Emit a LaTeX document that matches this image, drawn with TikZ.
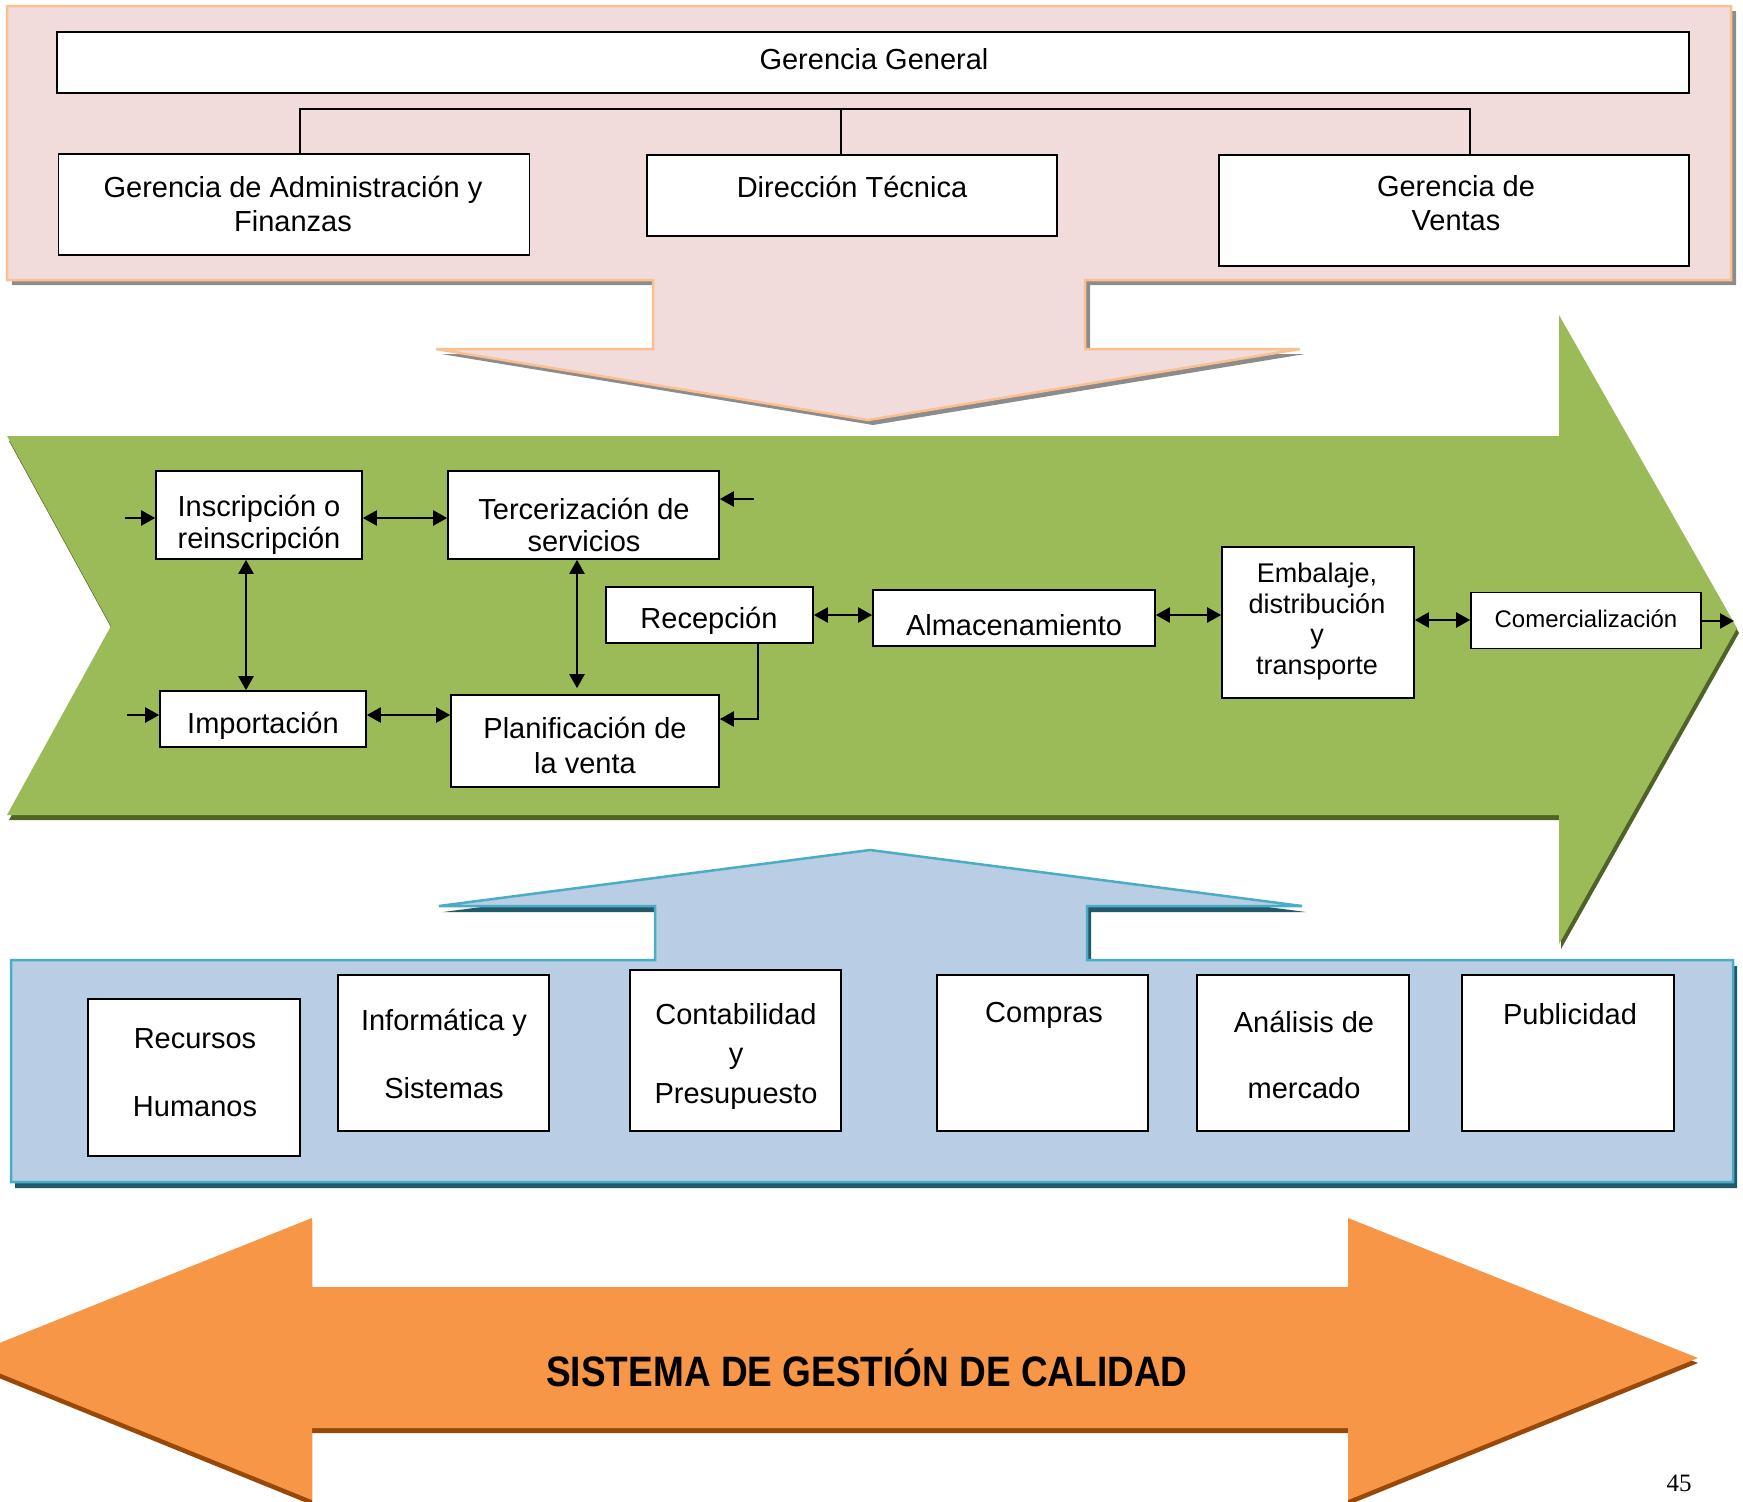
\documentclass[tikz,border=0pt]{standalone}
\usepackage{fontspec}
\setmainfont{Liberation Sans}
\newfontfamily\pageserif{Liberation Serif}
\usetikzlibrary{arrows.meta}
\definecolor{pinkfill}{HTML}{F2DCDB}
\definecolor{peach}{HTML}{FAC090}
\definecolor{pinkshadow}{HTML}{8C8C8C}
\definecolor{greenfill}{HTML}{9BBB59}
\definecolor{greenshadow}{HTML}{4F6228}
\definecolor{bluefill}{HTML}{B9CDE5}
\definecolor{blueline}{HTML}{4BACC6}
\definecolor{blueshadow}{HTML}{215968}
\definecolor{orangefill}{HTML}{F79646}
\definecolor{orangeshadow}{HTML}{984807}
\newcommand\pinkpoly[1]{\path[#1] (7,6) -- (1731,6) -- (1731,280) -- (1085,280) -- (1085,349) -- (1300,349) -- (868,420) -- (436,349) -- (653,349) -- (653,280) -- (7,280) -- cycle;}
\newcommand\greenpoly[1]{\path[#1] (7,436) -- (1559,436) -- (1559,315) -- (1737,628) -- (1559,944) -- (1559,815) -- (7,815) -- (111,626) -- cycle;}
\newcommand\bluepoly[1]{\path[#1] (11,960) -- (655,960) -- (655,906) -- (439,906) -- (870,850) -- (1302,906) -- (1087,906) -- (1087,960) -- (1733,960) -- (1733,1182) -- (11,1182) -- cycle;}
\newcommand\orangepoly[1]{\path[#1] (-38,1358) -- (312,1218) -- (312,1287) -- (1348,1287) -- (1348,1218) -- (1698,1358) -- (1348,1500) -- (1348,1428) -- (312,1428) -- (312,1500) -- cycle;}
\begin{document}
\begin{tikzpicture}[x=1pt,y=-1pt,
  box/.style={draw=black, fill=white, line width=1.6pt, inner sep=0pt},
  txt/.style={inner sep=0pt, align=center, font=\fontsize{29}{34}\selectfont},
  arr/.style={-{Triangle[length=14pt,width=15pt]}, line width=2.2pt},
  dbl/.style={{Triangle[length=14pt,width=15pt]}-{Triangle[length=14pt,width=15pt]}, line width=2.2pt},
  conn/.style={draw=black, line width=1.5pt}
]
\useasboundingbox (0,0) rectangle (1743,1502);
\clip (0,0) rectangle (1743,1502);

% ---------- background shapes ----------
\pinkpoly{fill=pinkshadow, shift={(5,5)}}
\pinkpoly{fill=pinkfill, draw=peach, line width=2.5pt}
\greenpoly{fill=greenshadow, shift={(2,5)}}
\greenpoly{fill=greenfill}
\bluepoly{fill=blueshadow, shift={(4,6)}}
\bluepoly{fill=bluefill, draw=blueline, line width=2.5pt}
\orangepoly{fill=orangeshadow, shift={(0,5)}}
\orangepoly{fill=orangefill}

% ---------- top: organisation ----------
\node[box, minimum width=1632pt, minimum height=61pt] (gg) at (873,62.5) {};
\node[txt] (ggT) at (874,59) {Gerencia General};
\node[box, minimum width=471pt, minimum height=101pt] (adm) at (294,204.5) {};
\node[txt] (admT) at (293,203.5) {Gerencia de Administración y\\Finanzas};
\node[box, minimum width=410pt, minimum height=81pt] (dir) at (852,195.5) {};
\node[txt] (dirT) at (852,186.5) {Dirección Técnica};
\node[box, minimum width=470pt, minimum height=111pt] (ven) at (1454,210.5) {};
\node[txt] (venT) at (1456,203) {Gerencia de\\Ventas};

\coordinate (busL) at (300,109);
\coordinate (busM) at (841,109);
\coordinate (busR) at (1470,109);
\draw[conn] (adm.north -| busL) -- (busL) -- (busR) -- (ven.north -| busR);
\draw[conn] (busM) -- (dir.north -| busM);

% ---------- middle: process ----------
\node[box, minimum width=206pt, minimum height=88pt] (ins) at (259,515) {};
\node[txt, font=\fontsize{29}{32}\selectfont] (insT) at (259,525) {Inscripción o\\reinscripción};
\node[box, minimum width=271pt, minimum height=88pt] (ter) at (583.5,515) {};
\node[txt, font=\fontsize{29}{32}\selectfont] (terT) at (584,524.5) {Tercerización de\\servicios};
\node[box, minimum width=207pt, minimum height=56pt] (rec) at (709.5,615) {};
\node[txt] (recT) at (709,621) {Recepción};
\node[box, minimum width=282pt, minimum height=56pt] (alm) at (1014,618) {};
\node[txt] (almT) at (1014,625.5) {Almacenamiento};
\node[box, minimum width=192pt, minimum height=151pt] (emb) at (1318,622.5) {};
\node[txt, font=\fontsize{27}{30.5}\selectfont] (embT) at (1317,621.5) {Embalaje,\\distribución\\y\\transporte};
\node[box, minimum width=230pt, minimum height=56pt] (com) at (1586,620.5) {};
\node[txt, font=\fontsize{24}{28}\selectfont] (comT) at (1586,619) {Comercialización};
\node[box, minimum width=206pt, minimum height=56pt] (imp) at (263,719) {};
\node[txt] (impT) at (263,726) {Importación};
\node[box, minimum width=268pt, minimum height=92pt] (pla) at (585,741) {};
\node[txt, font=\fontsize{29}{35}\selectfont] (plaT) at (585,745) {Planificación de\\la venta};

\coordinate (in1) at (125,518);
\coordinate (in2) at (127,715);
\coordinate (in3) at (754,499);
\coordinate (y1) at (0,518);
\coordinate (y2) at (0,715);
\coordinate (y2b) at (0,719);
\coordinate (y3) at (0,615);
\coordinate (y4) at (0,620);
\coordinate (x1) at (246,0);
\coordinate (x2) at (577,0);
\coordinate (x3) at (758,0);
\coordinate (outC) at (1734,621);

\draw[arr] (in1) -- (ins.west |- in1);
\draw[arr] (in2) -- (imp.west |- in2);
\draw[arr] (in3) -- (ter.east |- in3);
\draw[dbl] (ins.east |- y1) -- (ter.west |- y1);
\draw[dbl] (imp.east |- y2) -- (pla.west |- y2);
\draw[dbl] (ins.south -| x1) -- (imp.north -| x1);
\draw[dbl, shorten >=6pt] (ter.south -| x2) -- (pla.north -| x2);
\draw[arr] (rec.south -| x3) |- (pla.east |- y2b);
\draw[dbl] (rec.east |- y3) -- (alm.west |- y3);
\draw[dbl] (alm.east |- y3) -- (emb.west |- y3);
\draw[dbl] (emb.east |- y4) -- (com.west |- y4);
\draw[arr] (com.east |- outC) -- (outC);

% ---------- bottom: support areas ----------
\node[box, minimum width=212pt, minimum height=157pt] (rh) at (194,1077.5) {};
\node[txt, font=\fontsize{29}{68}\selectfont] (rhT) at (195,1073) {Recursos\\Humanos};
\node[box, minimum width=211pt, minimum height=156pt] (inf) at (443.5,1053) {};
\node[txt, font=\fontsize{29}{68}\selectfont] (infT) at (444,1054) {Informática y\\Sistemas};
\node[box, minimum width=211pt, minimum height=161pt] (con) at (735.5,1050.5) {};
\node[txt, font=\fontsize{29}{39.5}\selectfont] (conT) at (736,1056) {Contabilidad\\y\\Presupuesto};
\node[box, minimum width=211pt, minimum height=156pt] (comp) at (1042.5,1053) {};
\node[txt] (compT) at (1044,1015.5) {Compras};
\node[box, minimum width=212pt, minimum height=156pt] (ana) at (1303,1053) {};
\node[txt, font=\fontsize{29}{66}\selectfont] (anaT) at (1304,1055) {Análisis de\\mercado};
\node[box, minimum width=212pt, minimum height=156pt] (pub) at (1568,1053) {};
\node[txt] (pubT) at (1570,1014.5) {Publicidad};

% ---------- quality system ----------
\node[inner sep=0pt, font=\fontsize{37}{40}\selectfont\bfseries] (sgc) at (867,1368) {\scalebox{1}[1.15]{SISTEMA DE GESTIÓN DE CALIDAD}};
\node[inner sep=0pt, font=\pageserif\fontsize{25}{28}\selectfont] (pg) at (1679,1483) {45};
\end{tikzpicture}
\end{document}
